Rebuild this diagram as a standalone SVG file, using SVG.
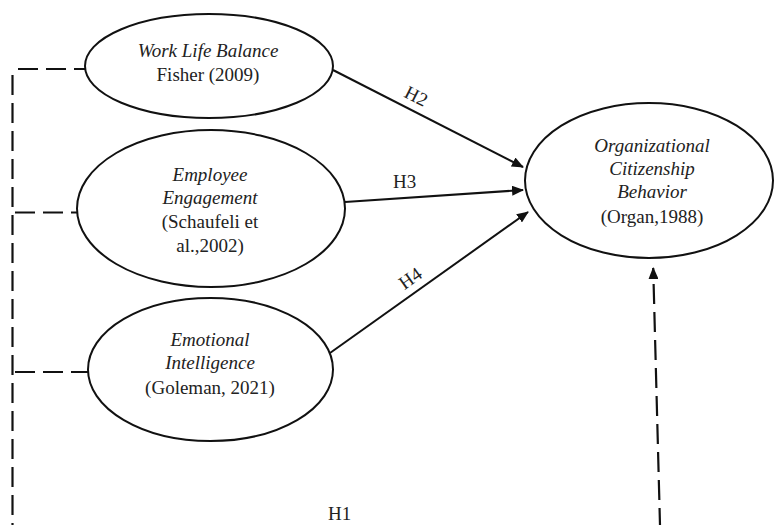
<svg xmlns="http://www.w3.org/2000/svg" width="774" height="525" viewBox="0 0 774 525">
<defs>
<marker id="ah" viewBox="0 0 12 10" refX="11" refY="5" markerWidth="12" markerHeight="10" markerUnits="userSpaceOnUse" orient="auto">
<path d="M0,0 L12,5 L0,10 Z" fill="#111"/>
</marker>
<style>
.node ellipse{fill:#fff;stroke:#111;stroke-width:2}
text{font-family:"Liberation Serif","Times New Roman",serif;font-size:19px;fill:#222}
.c{text-anchor:middle}
.i{font-style:italic}
.solid{stroke:#111;stroke-width:2;fill:none}
.dash{stroke:#111;stroke-width:2.2;fill:none;stroke-dasharray:20 8}
</style>
</defs>
<rect width="774" height="525" fill="#fff"/>
<g id="connectors">
<line class="solid" x1="333" y1="70" x2="523" y2="167" marker-end="url(#ah)"/>
<line class="solid" x1="345" y1="202" x2="523" y2="190" marker-end="url(#ah)"/>
<line class="solid" x1="330" y1="353" x2="528" y2="212" marker-end="url(#ah)"/>
<line class="dash" x1="12.5" y1="75" x2="12.5" y2="525"/>
<line class="dash" x1="18" y1="69" x2="85" y2="69"/>
<line class="dash" x1="15" y1="212.5" x2="78" y2="212.5"/>
<line class="dash" x1="15" y1="372" x2="88" y2="372"/>
<line class="dash" x1="660" y1="525" x2="653.2" y2="268" marker-end="url(#ah)" style="stroke-dashoffset:3"/>
<text x="404" y="104" transform="rotate(27 419 98)">H2</text>
<text x="393" y="188">H3</text>
<text x="398" y="284" transform="rotate(-35.5 411 277)">H4</text>
<text x="328" y="520">H1</text>
</g>
<g id="wlb" class="node">
<ellipse cx="209" cy="66" rx="124" ry="52"/>
<text x="208" y="57" class="c i">Work Life Balance</text>
<text x="208" y="81" class="c">Fisher (2009)</text>
</g>
<g id="ee" class="node">
<ellipse cx="211" cy="208.5" rx="134" ry="78.5"/>
<text x="210" y="181" class="c i">Employee</text>
<text x="210" y="204" class="c i">Engagement</text>
<text x="210" y="228" class="c">(Schaufeli et</text>
<text x="210" y="252" class="c">al.,2002)</text>
</g>
<g id="ei" class="node">
<ellipse cx="210.5" cy="369.5" rx="122.5" ry="71.5"/>
<text x="210" y="346" class="c i">Emotional</text>
<text x="210" y="369" class="c i">Intelligence</text>
<text x="210" y="394" class="c">(Goleman, 2021)</text>
</g>
<g id="ocb" class="node">
<ellipse cx="649" cy="180.5" rx="124" ry="77.5"/>
<text x="652" y="152" class="c i">Organizational</text>
<text x="652" y="175" class="c i">Citizenship</text>
<text x="652" y="198" class="c i">Behavior</text>
<text x="652" y="223" class="c">(Organ,1988)</text>
</g>
</svg>
